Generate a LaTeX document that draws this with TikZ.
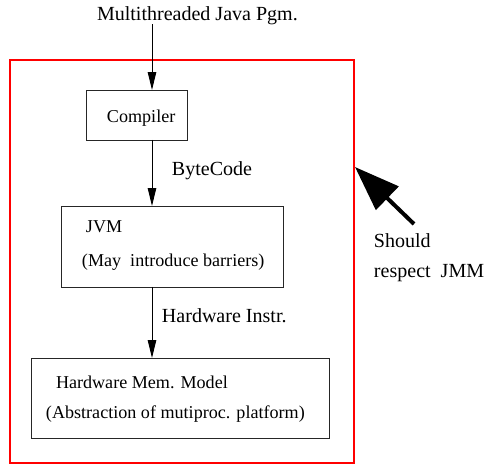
\documentclass[tikz,border=0pt]{standalone}
\usepackage{fontspec}
\setmainfont{Liberation Serif}
\usetikzlibrary{arrows.meta}
\tikzstyle{every node}=[inner sep=0pt,outer sep=0pt]
\tikzstyle{txt}=[anchor=base west,font=\fontsize{11.4}{14}\selectfont]
\tikzstyle{boxtxt}=[anchor=base west,font=\fontsize{10.3}{13}\selectfont]
\tikzstyle{layer}=[draw=black!85,line width=0.5pt]
\tikzstyle{flow}=[line width=0.5pt,-{Triangle[length=0.36cm,width=0.17cm]}]
\tikzstyle{push}=[line width=0.08cm,-{Triangle[length=0.9cm,width=0.64cm]}]

\begin{document}
\begin{tikzpicture}[x=0.02cm,y=-0.02cm]
  \useasboundingbox (0,0) rectangle (485,464);
  \node[draw=red,line width=0.04cm,minimum width=6.88cm,minimum height=8.06cm] (frame) at (182,261.5) {};
  \node[layer,minimum width=2.02cm,minimum height=1.0cm] (compiler) at (136.5,115) {};
  \node[layer,minimum width=4.44cm,minimum height=1.62cm] (jvm) at (172,246.5) {};
  \node[layer,minimum width=5.96cm,minimum height=1.6cm] (hw) at (180,398) {};
  \node[txt] (title) at (97,20) {Multithreaded Java Pgm.};
  \node[boxtxt] (ctext) at (107,122) {Compiler};
  \node[txt] (bytecode) at (172,175) {ByteCode};
  \node[boxtxt] (jtext) at (86,232) {JVM};
  \node[boxtxt] (jnote) at (82,266) {(May\ \ introduce barriers)};
  \node[txt] (instr) at (162,322) {Hardware Instr.};
  \node[boxtxt] (htext) at (56,388) {Hardware Mem. Model};
  \node[boxtxt] (hnote) at (46,418) {(Abstraction of mutiproc. platform)};
  \node[txt] (should) at (374,247) {Should};
  \node[txt] (respect) at (374,277) {respect\ \ JMM};
  \coordinate (axis) at (152,0);
  \coordinate (tail) at (414,224);
  \coordinate (hit) at (355,167);
  \draw[flow] (title.south -| axis) -- (compiler.north -| axis);
  \draw[flow] (compiler.south -| axis) -- (jvm.north -| axis);
  \draw[flow] (jvm.south -| axis) -- (hw.north -| axis);
  \draw[push] (tail) -- (hit);
\end{tikzpicture}
\end{document}
